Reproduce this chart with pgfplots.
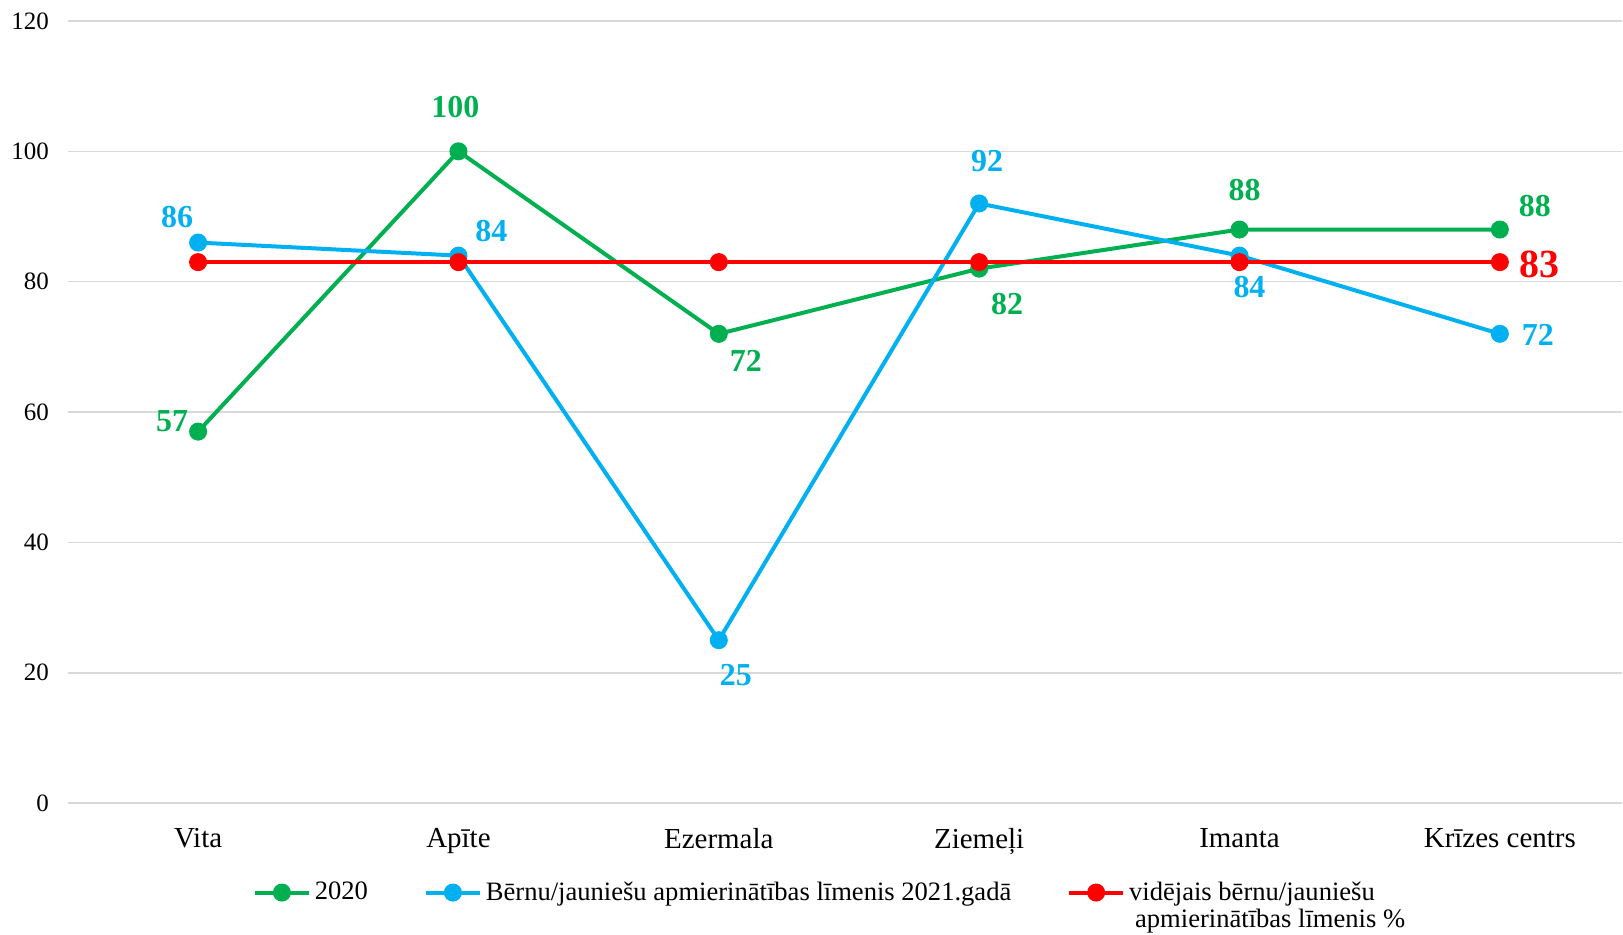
\documentclass[border=0pt]{standalone}
\usepackage{pgfplots}
\pgfplotsset{compat=1.18}
\usepackage{pgfplotstable}
\usepackage{fontspec}
\setmainfont{Liberation Serif}
\definecolor{cgreen}{HTML}{00B050}
\definecolor{cblue}{HTML}{00B0F0}
\definecolor{cred}{HTML}{FF0000}
\definecolor{cgrid}{HTML}{D9D9D9}

\pgfplotstableread{
x y dx dy
0 57 -13 5
1 100 -1.5 22
2 72 13.5 -13.5
3 82 14 -17.5
4 88 2.5 20
5 88 17.5 12
}\greendata

\pgfplotstableread{
x y dx dy
0 86 -10.5 13
1 84 16.5 12.5
2 25 8.5 -17.5
3 92 4 21
4 84 5 -15.5
5 72 19 -0.5
}\bluedata

\pgfplotstableread{
x y
0 83
1 83
2 83
3 83
4 83
5 83
}\reddata

\begin{document}
\begin{tikzpicture}
\begin{axis}[
  scale only axis,
  width=778pt, height=391.5pt,
  xmin=-0.5, xmax=5.47,
  ymin=0, ymax=120,
  ytick={0,20,...,120},
  xtick={0,1,2,3,4,5},
  xticklabels={Vita,Apīte,Ezermala,Ziemeļi,Imanta,Krīzes centrs},
  axis line style={draw=none},
  major tick length=0pt,
  ymajorgrids,
  grid style={cgrid, line width=0.8pt},
  /pgf/number format/assume math mode=true,
  yticklabel style={font=\fontsize{12.5}{14}\selectfont, xshift=-6pt},
  xticklabel style={font=\fontsize{14.5}{17}\selectfont, yshift=-9pt},
  clip=false,
  legend columns=3,
  legend cell align=left,
  legend style={draw=none, at={(0.491,-0.095)}, anchor=north, inner sep=0pt,
    font=\fontsize{13.3}{15}\selectfont,
    /tikz/every even column/.append style={column sep=26pt},
    row sep=-1pt},
  legend image code/.code={\draw[mark repeat=2,mark phase=2,#1] plot coordinates {(0pt,0pt) (13.5pt,0pt) (27pt,0pt)};},
]
\addplot[cgreen, line width=2pt, mark=*, mark size=3.5pt,
  visualization depends on={\thisrow{dx} \as \dx},
  visualization depends on={\thisrow{dy} \as \dy},
  nodes near coords,
  every node near coord/.append style={font=\bfseries\fontsize{16}{18}\selectfont, text=cgreen, anchor=center, xshift=\dx pt, yshift=\dy pt}
] table[x=x,y=y] {\greendata};
\addlegendentry{2020}
\addplot[cblue, line width=2pt, mark=*, mark size=3.5pt,
  visualization depends on={\thisrow{dx} \as \dx},
  visualization depends on={\thisrow{dy} \as \dy},
  nodes near coords,
  every node near coord/.append style={font=\bfseries\fontsize{16}{18}\selectfont, text=cblue, anchor=center, xshift=\dx pt, yshift=\dy pt}
] table[x=x,y=y] {\bluedata};
\addlegendentry{Bērnu/jauniešu apmierinātības līmenis 2021.gadā}
\addplot[cred, line width=2pt, mark=*, mark size=3.5pt] table[x=x,y=y] {\reddata};
\addlegendentry{vidējais bērnu/jauniešu}
\addplot[draw=none, mark=none, forget plot, nodes near coords,
  every node near coord/.append style={font=\bfseries\fontsize{20}{22}\selectfont, text=cred, anchor=center, xshift=20pt, yshift=-1pt}
] coordinates {(5,83)};
\addlegendimage{empty legend}\addlegendentry{}
\addlegendimage{empty legend}\addlegendentry{}
\addlegendimage{empty legend}\addlegendentry{\hspace*{3pt}apmierinātības līmenis \%}
\end{axis}
\path ([yshift=10.5pt]current axis.north);
\path ([xshift=-34pt]current axis.west);
\end{tikzpicture}
\end{document}
